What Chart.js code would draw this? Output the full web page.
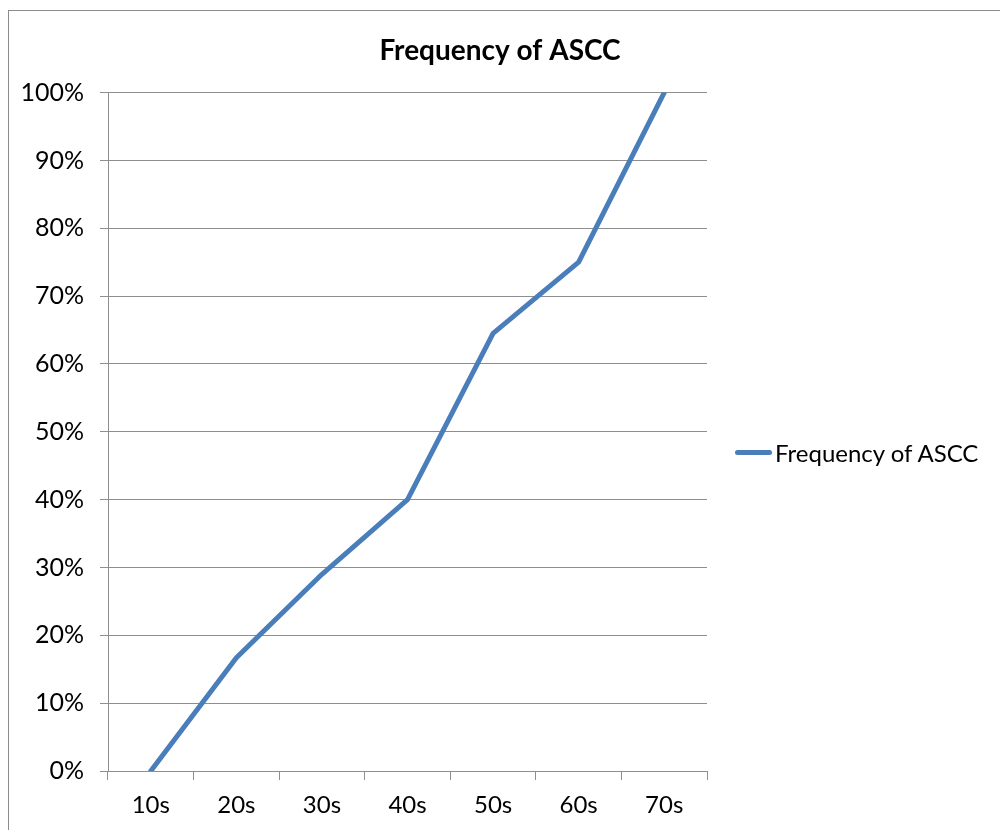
<!DOCTYPE html>
<html>
<head>
<meta charset="utf-8">
<script src="https://cdn.jsdelivr.net/npm/chart.js"></script>
<style>
    body { margin: 0; background: #fff; font-family: Lato, "Open Sans", sans-serif; }
    #frame {
        position: absolute; left: 8px; top: 10px; width: 1100px; height: 900px;
        border: 1px solid #8c8c8c; box-sizing: border-box;
    }
    #wrap { position: absolute; left: 0; top: 0; width: 1000px; height: 830px; }
    #legend {
        position: absolute; left: 735px; top: 436px; height: 32px;
        display: flex; align-items: center; font-size: 24px; color: #000; white-space: nowrap;
    }
    #legend .swatch {
        display: inline-block; width: 37px; height: 5px; border-radius: 3px; margin-right: 3px;
    }
</style>
</head>
<body>
<div id="frame"></div>
<div id="wrap"><canvas id="chart" width="1000" height="830"></canvas></div>
<div id="legend"></div>
<script>
// Chart data
const categories = ['10s', '20s', '30s', '40s', '50s', '60s', '70s'];
const seriesName = 'Frequency of ASCC';
const frequencyValues = [0, 16.7, 29, 40, 64.5, 75, 100];
const yTicks = [0, 10, 20, 30, 40, 50, 60, 70, 80, 90, 100];

const lineColor = '#4a7ebb';
const gridColor = '#8e8e8e';
const fontFamily = 'Lato, "Open Sans", sans-serif';

// Legend sits outside the canvas (Chart.js caps a right legend at 1/4 width)
const legendEl = document.getElementById('legend');
legendEl.innerHTML = `<span class="swatch" style="background:${lineColor}"></span><span>${seriesName}</span>`;

const ctx = document.getElementById('chart').getContext('2d');
new Chart(ctx, {
    type: 'line',
    data: {
        labels: categories,
        datasets: [{
            label: seriesName,
            data: frequencyValues,
            borderColor: lineColor,
            backgroundColor: lineColor,
            borderWidth: 5,
            borderCapStyle: 'round',
            borderJoinStyle: 'round',
            tension: 0,
            pointRadius: 0,
            fill: false
        }]
    },
    options: {
        responsive: false,
        animation: false,
        plugins: {
            title: {
                display: true,
                text: 'Frequency of ASCC',
                color: '#000',
                font: { family: fontFamily, size: 28, weight: 'bold' },
                padding: { top: 34, bottom: 25 }
            },
            legend: { display: false },
            tooltip: { enabled: false }
        },
        scales: {
            x: {
                offset: true,
                grid: {
                    offset: true,
                    drawOnChartArea: false,
                    drawTicks: true,
                    tickLength: 9,
                    color: gridColor
                },
                border: { color: gridColor, width: 1 },
                ticks: {
                    color: '#000',
                    font: { family: fontFamily, size: 24 },
                    padding: 11,
                    maxRotation: 0
                },
                afterFit: scale => { scale.height = 59; }
            },
            y: {
                min: 0,
                max: 100,
                afterBuildTicks: scale => {
                    scale.ticks = yTicks.map(v => ({ value: v }));
                },
                grid: {
                    color: gridColor,
                    lineWidth: 1,
                    drawTicks: true,
                    tickLength: 8
                },
                border: { color: gridColor, width: 1 },
                ticks: {
                    color: '#000',
                    font: { family: fontFamily, size: 25 },
                    padding: 16,
                    callback: v => v + '%'
                },
                afterFit: scale => { scale.width = 108; }
            },
            // empty right-hand axis that keeps room for the legend
            legendSpace: {
                type: 'linear',
                position: 'right',
                display: true,
                grid: { display: false },
                border: { display: false },
                ticks: { display: false },
                afterFit: scale => { scale.width = 293; }
            }
        }
    }
});
</script>
</body>
</html>
